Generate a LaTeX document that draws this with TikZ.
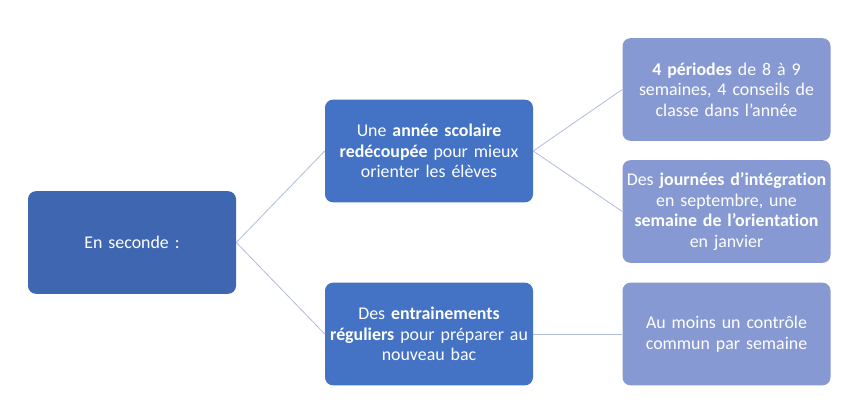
\documentclass[tikz,border=0pt]{standalone}
\usepackage{fontspec}
\setmainfont{Carlito}[Ligatures=NoCommon]
\definecolor{rootblue}{HTML}{3F67B1}
\definecolor{midblue}{HTML}{4472C4}
\definecolor{leafblue}{HTML}{8799D2}
\definecolor{linkblue}{HTML}{B0BCE0}
\begin{document}
\begin{tikzpicture}[x=0.75pt,y=-0.75pt,
  box/.style={rectangle,rounded corners=6pt,minimum width=156pt,minimum height=77pt,
    text width=154pt,inner sep=1pt,align=center,text=white,font=\fontsize{13.4}{15.4}\selectfont},
  rootbox/.style={box,fill=rootblue},
  midbox/.style={box,fill=midblue},
  leafbox/.style={box,fill=leafblue},
  link/.style={draw=linkblue,line width=0.6pt}]
\useasboundingbox (0,0) rectangle (856,410);
\node[rootbox] (root) at (132,242.5) {En seconde :};
\node[midbox] (m1) at (429,151) {Une \textbf{année scolaire}\\\textbf{redécoupée} pour mieux\\orienter les élèves};
\node[midbox] (m2) at (429,334) {Des \textbf{entrainements}\\\textbf{réguliers} pour préparer au\\nouveau bac};
\node[leafbox] (l1) at (726.5,89.5) {\textbf{4 périodes} de 8 à 9\\semaines, 4 conseils de\\classe dans l’année};
\node[leafbox] (l2) at (726.5,211.5) {Des \textbf{journées d’intégration}\\en septembre, une\\\textbf{semaine de l'orientation}\\en janvier};
\node[leafbox] (l3) at (726.5,334) {Au moins un contrôle\\commun par semaine};
\draw[link] (root.east) -- (m1.west);
\draw[link] (root.east) -- (m2.west);
\draw[link] (m1.east) -- (l1.west);
\draw[link] (m1.east) -- (l2.west);
\draw[link] (m2.east) -- (l3.west);
\end{tikzpicture}
\end{document}
